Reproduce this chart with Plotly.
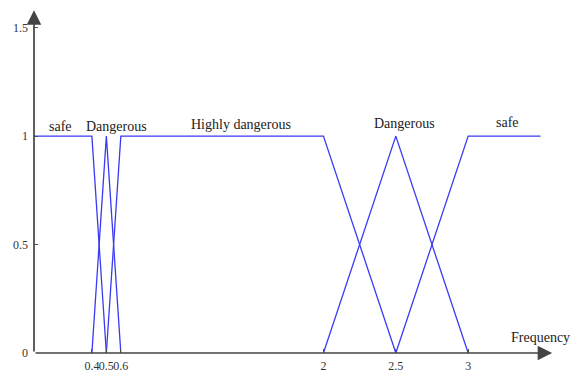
import plotly.graph_objects as go

# Membership functions over frequency (breakpoints and membership degrees)
safe_low_x = [0, 0.4, 0.5]
safe_low_mu = [1, 1, 0]
dang_low_x = [0.4, 0.5, 0.6]
dang_low_mu = [0, 1, 0]
high_x = [0.5, 0.6, 2, 2.5]
high_mu = [0, 1, 1, 0]
dang_high_x = [2, 2.5, 3]
dang_high_mu = [0, 1, 0]
safe_high_x = [2.5, 3, 3.5]
safe_high_mu = [0, 1, 1]

# Region labels and their positions
label_text = ["safe", "Dangerous", "Highly dangerous", "Dangerous", "safe"]
label_x = [0.18, 0.57, 1.43, 2.56, 3.27]
label_y = [1.046, 1.046, 1.055, 1.06, 1.064]

x_ticks = [0.4, 0.5, 0.6, 2, 2.5, 3]
x_tick_text = ["0.4", "0.5", "0.6", "2", "2.5", "3"]
y_ticks = [0, 0.5, 1, 1.5]
y_tick_text = ["0", "0.5", "1", "1.5"]

LINE = "#3a3af5"
AXIS = "#505050"
FONT = "Liberation Serif"

fig = go.Figure()
for xs, ys in [(safe_low_x, safe_low_mu), (dang_low_x, dang_low_mu),
               (high_x, high_mu), (dang_high_x, dang_high_mu),
               (safe_high_x, safe_high_mu)]:
    fig.add_trace(go.Scatter(x=xs, y=ys, mode="lines",
                             line=dict(color=LINE, width=1.3),
                             showlegend=False, hoverinfo="skip"))

for t, x, y in zip(label_text, label_x, label_y):
    fig.add_annotation(x=x, y=y, text=t, showarrow=False,
                       xanchor="center", yanchor="middle",
                       font=dict(family=FONT, size=14, color="#222222"))

# Axes drawn as arrows from the origin
fig.add_annotation(x=3.58, y=0, ax=0, ay=0, xref="x", yref="y",
                   axref="x", ayref="y", text="", showarrow=True,
                   arrowhead=2, arrowsize=1.7, arrowwidth=1.7, arrowcolor="#444444")
fig.add_annotation(x=0, y=1.58, ax=0, ay=0, xref="x", yref="y",
                   axref="x", ayref="y", text="", showarrow=True,
                   arrowhead=2, arrowsize=1.7, arrowwidth=1.7, arrowcolor="#444444")

fig.add_annotation(x=3.5, y=0.07, text="Frequency", showarrow=False,
                   xanchor="center", yanchor="middle",
                   font=dict(family=FONT, size=14, color="#222222"))

fig.update_layout(
    width=581, height=379,
    margin=dict(l=34, r=26, t=6, b=24),
    plot_bgcolor="white", paper_bgcolor="white",
    xaxis=dict(range=[0, 3.6], tickvals=x_ticks, ticktext=x_tick_text,
               tickangle=0, showgrid=False, zeroline=False, showline=False,
               ticks="inside", ticklen=4, tickcolor=AXIS,
               ticklabelstandoff=4,
               tickfont=dict(family=FONT, size=12, color="#333333")),
    yaxis=dict(range=[0, 1.6], tickvals=y_ticks, ticktext=y_tick_text,
               showgrid=False, zeroline=False, showline=False,
               ticks="inside", ticklen=4, tickcolor=AXIS,
               ticklabelstandoff=5,
               tickfont=dict(family=FONT, size=12, color="#333333")),
)

fig.write_html("out.html")
